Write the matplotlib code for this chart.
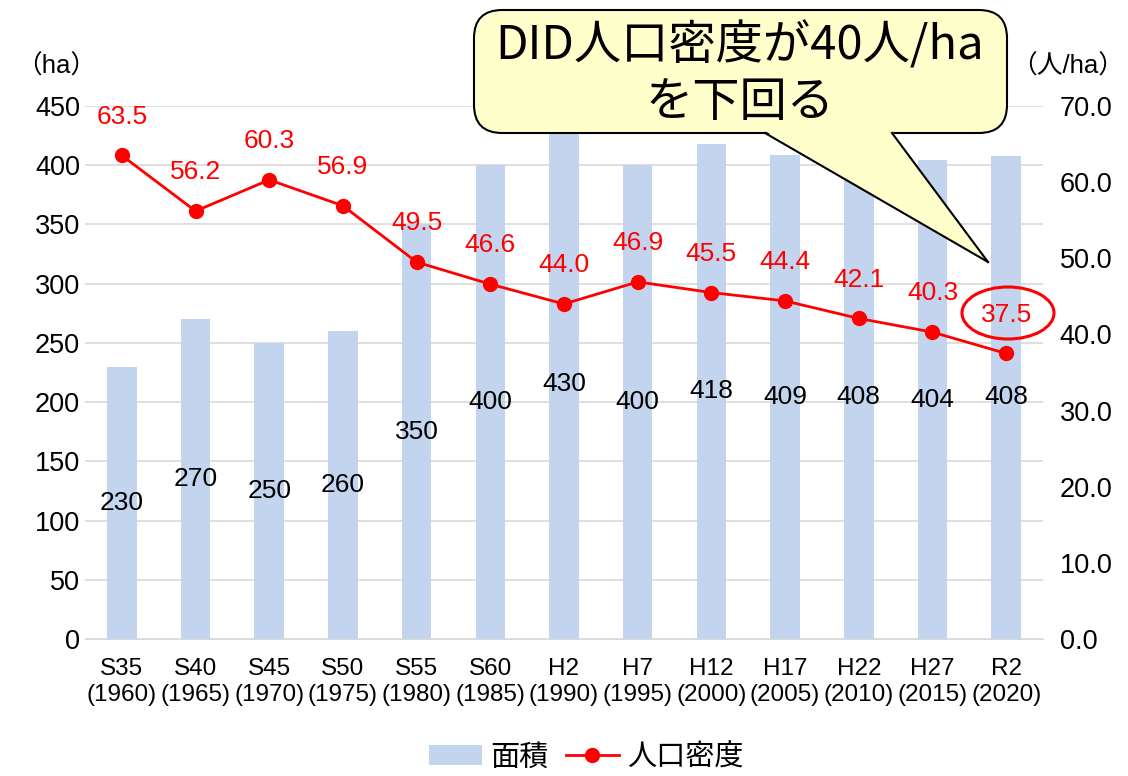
import numpy as np
import matplotlib.pyplot as plt
from matplotlib.patches import FancyBboxPatch, Polygon, Ellipse
from matplotlib.lines import Line2D
from matplotlib.patches import Patch

plt.rcParams['font.family'] = ['Liberation Sans', 'Noto Sans CJK JP', 'DejaVu Sans']

# データ
nendo = ['S35\n(1960)', 'S40\n(1965)', 'S45\n(1970)', 'S50\n(1975)', 'S55\n(1980)',
         'S60\n(1985)', 'H2\n(1990)', 'H7\n(1995)', 'H12\n(2000)', 'H17\n(2005)',
         'H22\n(2010)', 'H27\n(2015)', 'R2\n(2020)']
menseki = [230, 270, 250, 260, 350, 400, 430, 400, 418, 409, 408, 404, 408]
mitsudo = [63.5, 56.2, 60.3, 56.9, 49.5, 46.6, 44.0, 46.9, 45.5, 44.4, 42.1, 40.3, 37.5]

W, H = 1128, 776
fig = plt.figure(figsize=(W / 100, H / 100), dpi=100)
ax = fig.add_axes([85 / W, 1 - 639 / H, (1043 - 85) / W, (639 - 106) / H])

def px(x, y):
    # ピクセル座標 -> figure座標
    return (x / W, 1 - y / H)

x = np.arange(len(nendo))

# 棒グラフ(面積)
ax.bar(x, menseki, width=0.4, color='#c3d5ee', zorder=2)
for xi, v in zip(x, menseki):
    ax.text(xi, v / 2, str(v), ha='center', va='center', fontsize=19, color='black', zorder=5)

ax.set_ylim(0, 450)
ax.set_xlim(-0.5, len(nendo) - 0.5)
ax.set_yticks(np.arange(0, 451, 50))
ax.yaxis.grid(True, color='#d9d9d9', linewidth=1.2, zorder=0)
ax.set_axisbelow(True)
ax.set_xticks(x)
ax.set_xticklabels(nendo, linespacing=1.2)
ax.tick_params(axis='both', length=0, labelsize=19.5)
ax.tick_params(axis='x', labelsize=17.5, pad=14)
for s in ['top', 'right', 'left']:
    ax.spines[s].set_visible(False)
ax.spines['bottom'].set_color('#d9d9d9')

# 折れ線(人口密度)
ax2 = ax.twinx()
ax2.plot(x, mitsudo, color='red', marker='o', markersize=10, linewidth=2, zorder=4)
for xi, v in zip(x, mitsudo):
    ax2.annotate(f'{v:.1f}', (xi, v), xytext=(0, 28), textcoords='offset points',
                 ha='center', va='center', fontsize=19, color='red')
ax2.set_ylim(0, 70)
ax2.set_yticks(np.arange(0, 71, 10))
ax2.set_yticklabels([f'{t:.1f}' for t in np.arange(0, 71, 10)])
ax2.tick_params(axis='y', length=0, labelsize=19.5, pad=12)
for s in ['top', 'right', 'left', 'bottom']:
    ax2.spines[s].set_visible(False)

# 軸単位
fig.text(*px(56, 66), '（ha）', ha='center', va='center', fontsize=18.5)
fig.text(*px(1068, 66), '（人/ha）', ha='center', va='center', fontsize=18.5)

# 吹き出し
x0, y0, x1, y1 = 474, 10, 1007, 133
box = FancyBboxPatch(px(x0, y1), (x1 - x0) / W, (y1 - y0) / H,
                     boxstyle='round,pad=0,rounding_size=0.025',
                     transform=fig.transFigure, facecolor='#ffffcc',
                     edgecolor='black', linewidth=1.5, zorder=10, mutation_aspect=W / H)
fig.add_artist(box)
tail = Polygon([px(765, 131), px(892, 131), px(988, 262)], closed=True,
               transform=fig.transFigure, facecolor='#ffffcc', edgecolor='none', zorder=11)
fig.add_artist(tail)
fig.add_artist(Line2D([px(765, 133)[0], px(988, 262)[0]], [px(765, 133)[1], px(988, 262)[1]],
                      transform=fig.transFigure, color='black', linewidth=1.5, zorder=12))
fig.add_artist(Line2D([px(892, 133)[0], px(988, 262)[0]], [px(892, 133)[1], px(988, 262)[1]],
                      transform=fig.transFigure, color='black', linewidth=1.5, zorder=12))
fig.text(*px(740, 46), 'DID人口密度が40人/ha', ha='center', va='center', fontsize=34,
         family=['Noto Sans CJK JP'], zorder=13)
fig.text(*px(740, 103), 'を下回る', ha='center', va='center', fontsize=34,
         family=['Noto Sans CJK JP'], zorder=13)

# 37.5を囲む楕円
fig.add_artist(Ellipse(px(1008, 313), 92 / W, 52 / H, transform=fig.transFigure,
                       facecolor='none', edgecolor='red', linewidth=2.2, zorder=12))

# 凡例
handles = [Patch(facecolor='#c3d5ee'),
           Line2D([], [], color='red', marker='o', markersize=10, linewidth=2)]
fig.legend(handles, ['面積', '人口密度'], loc='center', bbox_to_anchor=(0.52, 0.024),
           ncol=2, frameon=False, fontsize=21, handlelength=1.8, columnspacing=0.6,
           handletextpad=0.3)

fig.savefig('out.png', dpi=100)
